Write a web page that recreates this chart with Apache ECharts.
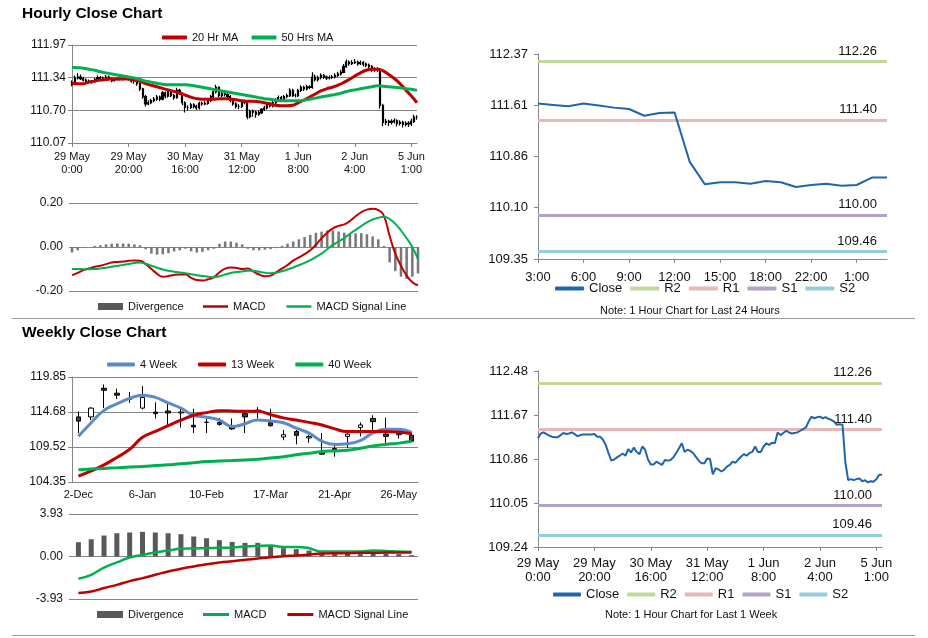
<!DOCTYPE html>
<html><head><meta charset="utf-8">
<script src="https://cdn.jsdelivr.net/npm/echarts@6/dist/echarts.min.js"></script>
<style>
html,body{margin:0;padding:0;background:#fff;width:928px;height:638px;overflow:hidden;position:relative}
.c{position:absolute}
.sep{position:absolute;left:12px;width:903px;height:1px;background:#9a9a9a}
</style></head><body>
<div id="c1" class="c" style="left:0;top:0;width:460px;height:190px"></div>
<div id="c2" class="c" style="left:0;top:190px;width:460px;height:127px"></div>
<div id="c3" class="c" style="left:460px;top:0;width:468px;height:317px"></div>
<div id="c4" class="c" style="left:0;top:320px;width:460px;height:180px"></div>
<div id="c5" class="c" style="left:0;top:500px;width:460px;height:134px"></div>
<div id="c6" class="c" style="left:460px;top:320px;width:468px;height:314px"></div>
<div class="sep" style="top:318px"></div>
<div class="sep" style="top:635px"></div>
<script>
// ---------- Hourly bars, 29 May 0:00 .. 5 Jun 2:00 (123 trading hours) ----------
const hourTicks = ['29 May\n0:00','29 May\n20:00','30 May\n16:00','31 May\n12:00','1 Jun\n8:00','2 Jun\n4:00','5 Jun\n1:00'];
const hourOpen = [
111.20,111.24,111.33,111.35,111.32,111.29,111.27,111.26,111.26,111.30,
111.34,111.32,111.33,111.35,111.32,111.28,111.30,111.31,111.31,111.31,
111.31,111.32,111.27,111.27,111.22,111.12,110.97,110.83,110.85,110.89,
110.92,110.96,110.92,111.04,110.98,111.07,110.99,110.95,111.09,111.03,
110.85,110.76,110.76,110.81,110.78,110.75,110.84,110.83,110.84,110.89,
110.97,111.06,111.15,110.99,111.03,111.01,110.97,110.90,110.83,110.78,
110.78,110.87,110.86,110.58,110.69,110.67,110.63,110.66,110.72,110.75,
110.81,110.79,110.85,110.90,110.95,110.92,110.97,110.99,111.09,110.99,
110.99,111.09,111.15,111.12,111.16,111.15,111.35,111.30,111.34,111.38,
111.35,111.33,111.34,111.35,111.38,111.41,111.44,111.55,111.64,111.61,
111.63,111.64,111.61,111.63,111.60,111.58,111.55,111.49,111.50,111.49,
110.80,110.47,110.49,110.47,110.49,110.50,110.45,110.47,110.43,110.45,
110.44,110.49,110.57];
const hourClose = [
111.24,111.33,111.35,111.32,111.29,111.27,111.26,111.26,111.30,111.34,
111.32,111.33,111.35,111.32,111.28,111.30,111.31,111.31,111.31,111.31,
111.32,111.27,111.27,111.22,111.12,110.97,110.83,110.85,110.89,110.92,
110.96,110.92,111.04,110.98,111.07,110.99,110.95,111.09,111.03,110.85,
110.76,110.76,110.81,110.78,110.75,110.84,110.83,110.84,110.89,110.97,
111.06,111.15,110.99,111.03,111.01,110.97,110.90,110.83,110.78,110.78,
110.87,110.86,110.58,110.69,110.67,110.63,110.66,110.72,110.75,110.81,
110.79,110.85,110.90,110.95,110.92,110.97,110.99,111.09,110.99,110.99,
111.09,111.15,111.12,111.16,111.15,111.35,111.30,111.34,111.38,111.35,
111.33,111.34,111.35,111.38,111.41,111.44,111.55,111.64,111.61,111.63,
111.64,111.61,111.63,111.60,111.58,111.55,111.49,111.50,111.49,110.80,
110.47,110.49,110.47,110.49,110.50,110.45,110.47,110.43,110.45,110.44,
110.49,110.57,110.57];
const hourHigh = [
111.28,111.38,111.42,111.40,111.35,111.32,111.30,111.29,111.33,111.38,
111.37,111.36,111.39,111.38,111.34,111.33,111.34,111.34,111.33,111.34,
111.35,111.34,111.31,111.30,111.25,111.14,111.00,110.90,110.93,110.96,
111.00,110.99,111.08,111.07,111.10,111.10,111.02,111.14,111.12,111.05,
110.88,110.80,110.85,110.84,110.81,110.87,110.87,110.88,110.93,111.00,
111.10,111.20,111.17,111.07,111.06,111.04,111.00,110.93,110.86,110.82,
110.90,110.91,110.88,110.72,110.72,110.70,110.70,110.75,110.79,110.84,
110.85,110.89,110.94,110.99,110.98,111.00,111.03,111.13,111.12,111.03,
111.12,111.19,111.18,111.20,111.19,111.44,111.40,111.38,111.42,111.41,
111.38,111.38,111.39,111.42,111.45,111.49,111.60,111.69,111.67,111.68,
111.70,111.67,111.67,111.66,111.63,111.61,111.58,111.54,111.54,111.52,
110.83,110.54,110.52,110.53,110.55,110.53,110.51,110.50,110.49,110.49,
110.54,110.62,110.61];
const hourLow = [
111.17,111.22,111.30,111.29,111.26,111.24,111.23,111.22,111.24,111.28,
111.29,111.29,111.31,111.29,111.25,111.26,111.28,111.28,111.28,111.29,
111.28,111.24,111.22,111.18,111.08,110.93,110.78,110.80,110.82,110.86,
110.89,110.88,110.90,110.94,110.95,110.96,110.91,110.93,111.00,110.80,
110.66,110.70,110.73,110.74,110.71,110.72,110.79,110.80,110.81,110.86,
110.94,111.03,110.96,110.96,110.97,110.93,110.86,110.79,110.74,110.73,
110.75,110.82,110.53,110.55,110.58,110.56,110.60,110.63,110.69,110.72,
110.76,110.76,110.82,110.87,110.89,110.89,110.94,110.96,110.96,110.95,
110.96,111.06,111.08,111.09,111.11,111.12,111.26,111.26,111.30,111.31,
111.29,111.30,111.31,111.32,111.35,111.38,111.42,111.53,111.57,111.58,
111.60,111.57,111.58,111.56,111.54,111.51,111.45,111.45,111.45,110.74,
110.40,110.42,110.40,110.43,110.45,110.39,110.41,110.37,110.39,110.38,
110.40,110.46,110.52];

// ---------- Hourly indicators, every 2nd hour (62 points) ----------
const ma20 = [111.23,111.22,111.22,111.25,111.27,111.29,111.30,111.31,111.31,111.31,111.31,111.29,111.27,111.22,111.19,111.16,111.13,111.10,111.07,111.04,111.00,110.96,110.93,110.92,110.92,110.92,110.93,110.93,110.92,110.91,110.89,110.88,110.88,110.87,110.85,110.83,110.80,110.79,110.79,110.80,110.85,110.90,110.96,111.02,111.08,111.12,111.15,111.19,111.24,111.30,111.37,111.43,111.48,111.50,111.50,111.47,111.40,111.32,111.22,111.10,110.98,110.85];
const ma50 = [111.54,111.53,111.52,111.50,111.48,111.45,111.43,111.41,111.39,111.37,111.35,111.33,111.30,111.27,111.25,111.23,111.21,111.20,111.20,111.20,111.20,111.19,111.17,111.15,111.13,111.11,111.09,111.07,111.05,111.03,111.01,110.99,110.97,110.95,110.93,110.92,110.90,110.89,110.89,110.89,110.89,110.90,110.92,110.94,110.96,110.98,111.00,111.02,111.05,111.08,111.10,111.12,111.14,111.16,111.18,111.17,111.16,111.15,111.14,111.12,111.11,111.09];
const hMacd = [-0.128,-0.118,-0.105,-0.098,-0.090,-0.085,-0.078,-0.070,-0.068,-0.066,-0.063,-0.061,-0.062,-0.078,-0.100,-0.122,-0.135,-0.132,-0.127,-0.125,-0.125,-0.140,-0.150,-0.152,-0.147,-0.138,-0.115,-0.098,-0.093,-0.095,-0.100,-0.098,-0.112,-0.125,-0.133,-0.130,-0.115,-0.098,-0.082,-0.062,-0.047,-0.032,-0.015,0.010,0.040,0.065,0.085,0.096,0.103,0.118,0.140,0.158,0.170,0.174,0.168,0.140,0.050,-0.030,-0.085,-0.130,-0.160,-0.174];
const hSignal = [-0.100,-0.100,-0.101,-0.101,-0.100,-0.098,-0.094,-0.090,-0.086,-0.082,-0.077,-0.073,-0.071,-0.076,-0.085,-0.094,-0.102,-0.108,-0.112,-0.116,-0.119,-0.124,-0.128,-0.132,-0.135,-0.137,-0.133,-0.125,-0.118,-0.114,-0.111,-0.108,-0.108,-0.112,-0.117,-0.119,-0.117,-0.110,-0.102,-0.093,-0.083,-0.072,-0.060,-0.045,-0.030,-0.010,0.010,0.025,0.040,0.060,0.078,0.095,0.112,0.125,0.133,0.137,0.127,0.105,0.075,0.040,0.000,-0.055];
const hDiv = [-0.025,-0.015,-0.005,0.000,0.005,0.008,0.012,0.015,0.016,0.016,0.015,0.012,0.008,-0.010,-0.030,-0.035,-0.033,-0.028,-0.020,-0.015,-0.008,-0.020,-0.025,-0.022,-0.015,-0.008,0.015,0.025,0.025,0.020,0.012,-0.008,-0.015,-0.015,-0.012,-0.010,-0.005,0.005,0.015,0.025,0.035,0.045,0.055,0.065,0.070,0.075,0.075,0.070,0.065,0.060,0.062,0.063,0.058,0.048,0.035,0.005,-0.070,-0.110,-0.135,-0.145,-0.135,-0.120];
const hourLeftTicks = ['110.07','110.70','111.34','111.97'];
const hMacdTicks = ['-0.20','0.00','0.20'];

// ---------- Last 24 hours ----------
const hours24 = ['3:00','4:00','5:00','6:00','7:00','8:00','9:00','10:00','11:00','12:00','13:00','14:00','15:00','16:00','17:00','18:00','19:00','21:00','22:00','23:00','0:00','1:00','2:00','3:00'];
const close24 = [111.64,111.62,111.60,111.64,111.61,111.58,111.56,111.46,111.50,111.51,110.78,110.45,110.48,110.48,110.46,110.50,110.48,110.41,110.44,110.46,110.43,110.44,110.55,110.55];
const ticks24 = ['109.35','110.10','110.86','111.61','112.37'];
const ticksWeekLine = ['109.24','110.05','110.86','111.67','112.48'];

// ---------- Pivot levels ----------
const levelNames = ['R2','R1','S1','S2'];
const levelValues = [112.26, 111.40, 110.00, 109.46];

// ---------- Weekly ----------
const weeks = ['2-Dec','9-Dec','16-Dec','23-Dec','30-Dec','6-Jan','13-Jan','20-Jan','27-Jan','3-Feb','10-Feb','17-Feb','24-Feb','3-Mar','10-Mar','17-Mar','24-Mar','31-Mar','7-Apr','14-Apr','21-Apr','28-Apr','5-May','12-May','19-May','26-May','2-Jun'];
const wOpen = [113.96,113.96,118.18,117.46,116.55,115.26,114.68,114.83,114.54,112.72,113.15,113.15,112.67,114.44,114.87,113.10,111.00,111.81,110.85,108.70,109.28,111.09,112.39,113.73,111.43,111.33,111.24];
const wClose = [113.34,115.26,117.89,117.17,116.69,116.84,114.44,114.54,114.68,112.48,113.18,112.86,112.19,113.96,114.97,112.67,111.33,111.24,111.05,108.46,109.04,111.43,112.77,113.25,111.09,111.48,110.38];
const wLow = [111.57,113.49,115.26,116.60,116.02,115.07,113.73,112.77,112.39,111.57,111.57,112.67,112.05,111.57,113.73,112.53,110.52,109.90,110.14,108.40,108.08,109.42,111.09,111.91,109.99,110.76,110.28];
const wHigh = [114.78,115.40,118.75,118.13,117.65,118.51,116.12,116.21,115.16,115.16,113.73,113.82,113.73,114.92,115.40,115.16,112.05,112.05,111.33,111.57,110.14,111.81,113.15,114.20,113.87,111.91,111.57];
const ma4w = [111.09,113.10,114.92,115.88,116.69,117.17,116.84,116.02,115.26,114.20,113.92,113.49,112.53,112.96,113.49,113.34,113.10,112.29,111.57,110.38,109.90,109.99,110.47,111.60,112.15,112.15,111.67];
const ma13w = [105.21,105.98,106.88,107.98,109.18,110.95,111.81,112.67,113.49,114.20,114.59,114.87,114.83,114.78,114.78,114.30,113.82,113.49,113.15,112.77,112.19,111.81,111.81,111.81,111.81,111.72,111.48];
const ma40w = [106.17,106.27,106.36,106.45,106.55,106.64,106.77,106.90,107.03,107.20,107.36,107.44,107.51,107.60,107.70,107.89,108.08,108.37,108.61,108.85,108.94,109.04,109.33,109.66,109.90,110.09,110.38];
const wDiv = [1.32,1.60,1.94,2.15,2.22,2.28,2.22,2.15,2.06,1.85,1.69,1.51,1.35,1.26,1.26,0.98,0.77,0.68,0.55,0.37,0.31,0.25,0.22,0.25,0.28,0.22,0.12];
const wMacd = [-2.06,-1.69,-1.02,-0.55,-0.09,0.15,0.37,0.55,0.71,0.74,0.77,0.80,0.83,0.92,0.98,1.02,0.89,0.89,0.77,0.46,0.46,0.46,0.46,0.55,0.52,0.46,0.43];
const wSignal = [-3.38,-3.23,-2.92,-2.62,-2.28,-2.00,-1.69,-1.38,-1.14,-0.92,-0.71,-0.55,-0.43,-0.31,-0.18,-0.06,0.03,0.09,0.18,0.28,0.31,0.31,0.34,0.34,0.37,0.37,0.37];
const weekTicks = ['104.35','109.52','114.68','119.85'];
const wMacdTicks = ['-3.93','0.00','3.93'];

// ---------- helpers ----------
const F = '"Liberation Sans", Arial, sans-serif';
const TXT = '#111';
const AX = '#868686';
const RED = '#C00000', GREEN = '#00B050', BLUE = '#1F64AD', BLUE4 = '#5B8BCB';
const levelColors = ['#C4D79B','#E6B8B7','#B3A2C7','#92CDDC'];

function labelAxis(labels, o) {
  const nums = labels.map(Number);
  const min = nums[0], max = nums[nums.length - 1];
  const step = (max - min) / (labels.length - 1);
  o = o || {};
  const al = Object.assign({fontSize: 12, color: TXT, fontFamily: F}, o.axisLabel || {});
  al.formatter = function (v) {
    let b = 0;
    nums.forEach((n, i) => { if (Math.abs(n - v) < Math.abs(nums[b] - v)) b = i; });
    return Math.abs(nums[b] - v) < step / 4 ? labels[b] : '';
  };
  return Object.assign({type: 'value', min: min, max: max, interval: step * (1 + 1e-9)}, o, {axisLabel: al});
}
const hourCats = hourClose.map((_, i) => 'h' + i);          // hourly categories (123)
const ind2Cats = ma20.map((_, i) => 'k' + i);               // 2-hourly indicator categories (62)
const hourFmt = v => { const i = +String(v).slice(1); return i % 20 === 0 ? (hourTicks[i / 20] || '') : ''; };
const candleData = (o, c, l, h) => o.map((v, i) => [v, c[i], l[i], h[i]]);
const lineS = (name, data, color, width, smooth, extra) => Object.assign({
  name, type: 'line', data, symbol: 'none', smooth: smooth, lineStyle: {color, width}, itemStyle: {color}, z: 3
}, extra || {});
function levelSeries(i) {
  const color = levelColors[i];
  return {
    name: levelNames[i], type: 'line', data: [], symbol: 'none',
    lineStyle: {color, width: 3}, itemStyle: {color},
    markLine: {
      silent: true, symbol: ['none', 'none'], animation: false,
      data: [{yAxis: levelValues[i]}],
      lineStyle: {color, width: 3, type: 'solid'},
      label: {show: true, position: 'insideEndTop', distance: [10, 4], formatter: p => Number(p.value).toFixed(2), fontFamily: F, fontSize: 13, color: TXT}
    }
  };
}
function legendBox(o) {
  return Object.assign({padding: 0, icon: 'roundRect', itemGap: 10, textStyle: {fontFamily: F, fontSize: 11, color: TXT}}, o);
}
const init = id => echarts.init(document.getElementById(id), null, {renderer: 'canvas'});

// ---------- Chart 1: Hourly candles ----------
init('c1').setOption({
  animation: false,
  textStyle: {fontFamily: F},
  title: {text: 'Hourly Close Chart', left: 22, top: 6, padding: 0, textStyle: {fontFamily: F, fontSize: 15.5, fontWeight: 'bold', color: '#000'}},
  legend: legendBox({left: 162, top: 32, itemWidth: 25, itemHeight: 4, itemGap: 13, data: ['20 Hr MA', '50 Hrs MA']}),
  grid: {left: 72, top: 45, width: 345, height: 98},
  xAxis: [
    {type: 'category', data: hourCats, boundaryGap: false,
      axisLine: {lineStyle: {color: AX}}, axisTick: {interval: 19, length: 4, lineStyle: {color: AX}},
      axisLabel: {interval: 19, fontSize: 11, color: TXT, lineHeight: 13, margin: 7, formatter: hourFmt}},
    {type: 'category', data: ind2Cats, boundaryGap: false, show: false}
  ],
  yAxis: labelAxis(hourLeftTicks, {axisLine: {show: true, lineStyle: {color: AX}}, axisTick: {show: true, length: 4, lineStyle: {color: AX}},
    splitLine: {show: true, lineStyle: {color: AX}}, axisLabel: {margin: 6}}),
  series: [
    {type: 'candlestick', xAxisIndex: 0, data: candleData(hourOpen, hourClose, hourLow, hourHigh), barWidth: 1.6,
      itemStyle: {color: '#000', color0: '#000', borderColor: '#000', borderColor0: '#000', borderWidth: 1.2}},
    lineS('20 Hr MA', ma20, RED, 3, true, {xAxisIndex: 1}),
    lineS('50 Hrs MA', ma50, GREEN, 3, true, {xAxisIndex: 1})
  ]
});

// ---------- Chart 2: Hourly MACD ----------
init('c2').setOption({
  animation: false,
  textStyle: {fontFamily: F},
  legend: [
    legendBox({left: 98, top: 111, itemWidth: 25, itemHeight: 7, icon: 'rect', data: [{name: 'Divergence', itemStyle: {color: '#595959'}}]}),
    legendBox({left: 203, top: 111, itemWidth: 25, itemHeight: 2.5, icon: 'rect', itemGap: 21, data: ['MACD', 'MACD Signal Line']})
  ],
  grid: {left: 72, top: 13, width: 346, height: 88},
  xAxis: {type: 'category', data: ind2Cats, boundaryGap: false, show: false},
  yAxis: labelAxis(hMacdTicks, {axisLine: {show: false}, axisTick: {show: true, length: 3, lineStyle: {color: AX}},
    splitLine: {show: true, lineStyle: {color: AX}}, axisLabel: {margin: 9}}),
  series: [
    {name: 'Divergence', type: 'bar', data: hDiv, barWidth: 2.5, itemStyle: {color: '#777'}},
    lineS('MACD', hMacd, RED, 2, true),
    lineS('MACD Signal Line', hSignal, GREEN, 2, true)
  ]
});

// ---------- Chart 3: Last 24 hours ----------
init('c3').setOption({
  animation: false,
  textStyle: {fontFamily: F},
  title: {text: 'Note: 1 Hour Chart for Last 24 Hours', left: 140, top: 305, padding: 0, textStyle: {fontFamily: F, fontSize: 11, fontWeight: 'normal', color: TXT}},
  legend: legendBox({left: 95, top: 282, itemWidth: 29, itemHeight: 4, itemGap: 8, textStyle: {fontFamily: F, fontSize: 13, color: TXT},
    data: ['Close'].concat(levelNames)}),
  grid: {left: 78, top: 54, width: 349, height: 205},
  xAxis: {type: 'category', data: hours24, boundaryGap: false,
    axisLine: {lineStyle: {color: AX}}, axisTick: {interval: 2, length: 4, lineStyle: {color: AX}},
    axisLabel: {interval: 2, fontSize: 13, color: TXT, margin: 12}},
  yAxis: labelAxis(ticks24, {axisLine: {show: true, lineStyle: {color: AX}}, axisTick: {show: true, length: 4, lineStyle: {color: AX}},
    splitLine: {show: false}, axisLabel: {fontSize: 13, margin: 10}}),
  series: [lineS('Close', close24, BLUE, 2, false, {z: 5})].concat(levelNames.map((_, i) => levelSeries(i)))
});

// ---------- Chart 4: Weekly candles ----------
init('c4').setOption({
  animation: false,
  textStyle: {fontFamily: F},
  title: {text: 'Weekly Close Chart', left: 22, top: 5, padding: 0, textStyle: {fontFamily: F, fontSize: 15.5, fontWeight: 'bold', color: '#000'}},
  legend: legendBox({left: 107, top: 39, itemWidth: 28, itemHeight: 4, itemGap: 21, data: ['4 Week', '13 Week', '40 Week']}),
  grid: {left: 72, top: 57, width: 346, height: 108},
  xAxis: {type: 'category', data: weeks, boundaryGap: true,
    axisLine: {lineStyle: {color: AX}}, axisTick: {interval: 4, length: 4, lineStyle: {color: AX}},
    axisLabel: {interval: 4, fontSize: 11, color: TXT, margin: 7}},
  yAxis: labelAxis(weekTicks, {axisLine: {show: true, lineStyle: {color: AX}}, axisTick: {show: true, length: 4, lineStyle: {color: AX}},
    splitLine: {show: true, lineStyle: {color: AX}}, axisLabel: {margin: 6}}),
  series: [
    {type: 'candlestick', data: candleData(wOpen, wClose, wLow, wHigh), barWidth: 5,
      itemStyle: {color: '#fff', color0: '#404040', borderColor: '#000', borderColor0: '#000', borderWidth: 1}},
    lineS('4 Week', ma4w, BLUE4, 3, true),
    lineS('13 Week', ma13w, RED, 3, true),
    lineS('40 Week', ma40w, GREEN, 3, true)
  ]
});

// ---------- Chart 5: Weekly MACD ----------
init('c5').setOption({
  animation: false,
  textStyle: {fontFamily: F},
  legend: [
    legendBox({left: 97, top: 109, itemWidth: 26, itemHeight: 7, icon: 'rect', data: ['Divergence']}),
    legendBox({left: 203, top: 109, itemWidth: 26, itemHeight: 3, icon: 'rect', itemGap: 21, data: ['MACD', 'MACD Signal Line']})
  ],
  grid: {left: 72, top: 14, width: 346, height: 85},
  xAxis: {type: 'category', data: weeks, boundaryGap: true, show: false},
  yAxis: labelAxis(wMacdTicks, {axisLine: {show: false}, axisTick: {show: true, length: 3, lineStyle: {color: AX}},
    splitLine: {show: true, lineStyle: {color: AX}}, axisLabel: {margin: 9}}),
  series: [
    {name: 'Divergence', type: 'bar', data: wDiv, barWidth: 5, itemStyle: {color: '#595959'}},
    lineS('MACD', wMacd, GREEN, 2.5, true),
    lineS('MACD Signal Line', wSignal, RED, 2.5, true)
  ]
});

// ---------- Chart 6: Last 1 week (hourly closes) ----------
init('c6').setOption({
  animation: false,
  textStyle: {fontFamily: F},
  title: {text: 'Note: 1 Hour Chart for Last 1 Week', left: 145, top: 289, padding: 0, textStyle: {fontFamily: F, fontSize: 11, fontWeight: 'normal', color: TXT}},
  legend: legendBox({left: 93, top: 268, itemWidth: 28, itemHeight: 4, itemGap: 8, textStyle: {fontFamily: F, fontSize: 13, color: TXT},
    data: ['Close'].concat(levelNames)}),
  grid: {left: 78, top: 51, width: 344, height: 176},
  xAxis: {type: 'category', data: hourCats, boundaryGap: false,
    axisLine: {lineStyle: {color: AX}}, axisTick: {interval: 19, length: 4, lineStyle: {color: AX}},
    axisLabel: {interval: 19, fontSize: 13, color: TXT, lineHeight: 14, margin: 9, formatter: hourFmt}},
  yAxis: labelAxis(ticksWeekLine, {axisLine: {show: true, lineStyle: {color: AX}}, axisTick: {show: true, length: 4, lineStyle: {color: AX}},
    splitLine: {show: false}, axisLabel: {fontSize: 13, margin: 10}}),
  series: [lineS('Close', hourClose, BLUE, 2, false, {z: 5})].concat(levelNames.map((_, i) => levelSeries(i)))
});
</script>
</body></html>
